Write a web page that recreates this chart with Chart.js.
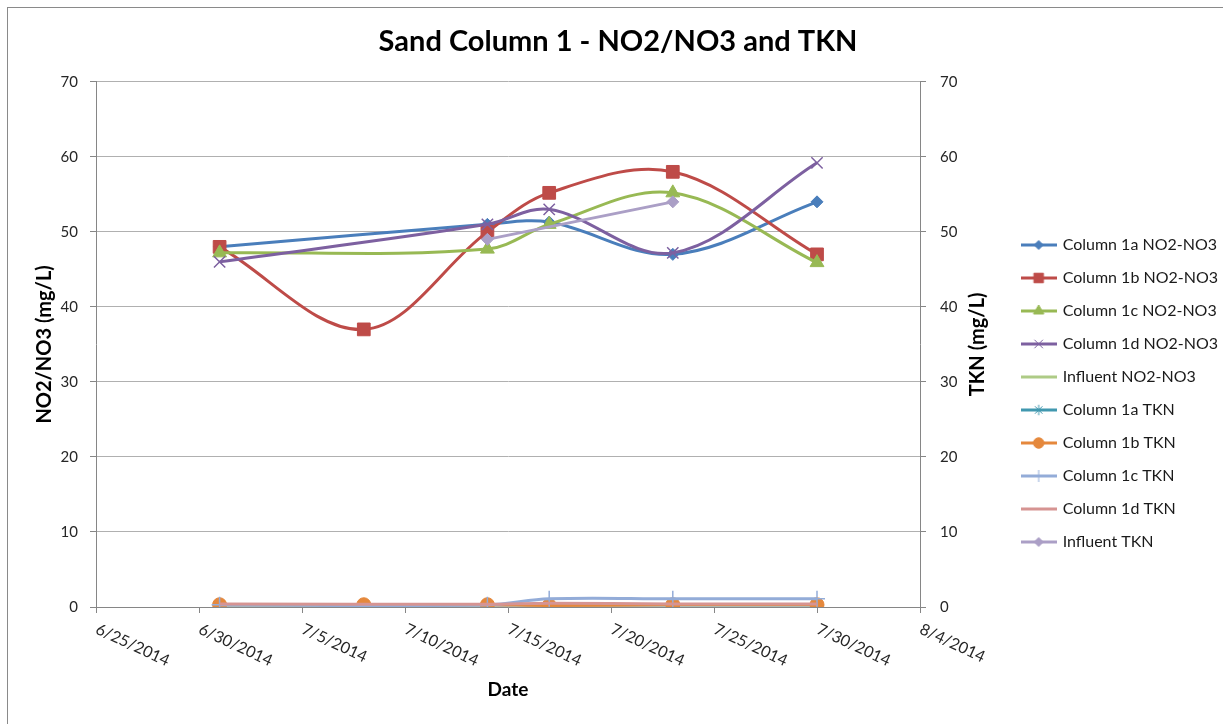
<!DOCTYPE html>
<html>
<head>
<meta charset="utf-8">
<script src="https://cdn.jsdelivr.net/npm/chart.js@4/dist/chart.umd.min.js"></script>
<style>
  html, body { margin: 0; padding: 0; background: #fff; overflow: hidden; }
  #frame { position: absolute; left: 7px; top: 7px; width: 1220px; height: 720px; border: 1px solid #8a8a8a; }
</style>
</head>
<body>
<div id="frame"><canvas id="chart"></canvas></div>
<script>
// -------------------------------
// DATA
// -------------------------------
const sampleDates = ["7/1/2014", "7/8/2014", "7/14/2014", "7/17/2014", "7/23/2014", "7/30/2014"];
const xTickLabels = ["6/25/2014", "6/30/2014", "7/5/2014", "7/10/2014", "7/15/2014",
                     "7/20/2014", "7/25/2014", "7/30/2014", "8/4/2014"];

const col1aNO = [48, null, 51, 51.3, 47, 54];
const col1bNO = [48, 37, 50, 55.2, 58, 47];
const col1cNO = [47.2, null, 47.7, 51, 55.2, 45.9];
const col1dNO = [46, null, 51, 53, 47.2, 59.2];
const influentNO = [null, null, null, null, null, null];
const col1aTKN = [0.25, null, 0.25, null, 0.25, 0.25];
const col1bTKN = [0.3, 0.3, 0.3, 0.2, 0.3, 0.3];
const col1cTKN = [0.3, null, 0.3, 1.1, 1.1, 1.1];
const col1dTKN = [0.4, null, 0.35, 0.5, 0.4, 0.4];
const influentTKN = [null, null, 49, null, 54, null];

// day 0 = 6/25/2014
const BASE = Date.UTC(2014, 5, 25);
function dayOf(s) {
    const [m, d, y] = s.split("/").map(Number);
    return (Date.UTC(y, m - 1, d) - BASE) / 86400000;
}
function toPoints(values) {
    return sampleDates.map((d, i) => ({ x: dayOf(d), y: values[i] }));
}

// -------------------------------
// SERIES STYLE
// -------------------------------
const series = [
    { label: "Column 1a NO2-NO3", data: col1aNO, color: "#4a7ebb", style: "rectRot", r: 6, axis: "y" },
    { label: "Column 1b NO2-NO3", data: col1bNO, color: "#be4b48", style: "rect", r: 9, axis: "y" },
    { label: "Column 1c NO2-NO3", data: col1cNO, color: "#98b954", style: "triangle", r: 8, axis: "y" },
    { label: "Column 1d NO2-NO3", data: col1dNO, color: "#7d60a0", style: "crossRot", r: 8, axis: "y" },
    { label: "Influent NO2-NO3", data: influentNO, color: "#aecb86", style: false, r: 0, axis: "y" },
    { label: "Column 1a TKN", data: col1aTKN, color: "#4198af", style: "star", r: 7, axis: "y2" },
    { label: "Column 1b TKN", data: col1bTKN, color: "#e5883c", style: "circle", r: 7, axis: "y2" },
    { label: "Column 1c TKN", data: col1cTKN, color: "#93acd8", style: "cross", r: 8, axis: "y2" },
    { label: "Column 1d TKN", data: col1dTKN, color: "#d69492", style: false, r: 0, axis: "y2" },
    { label: "Influent TKN", data: influentTKN, color: "#ab9fc6", style: "rectRot", r: 6, axis: "y2" }
];
const lineMarkers = ["crossRot", "cross", "star"];

// small line+marker pictures for the legend
function legendIcon(s) {
    const c = document.createElement("canvas");
    c.width = 36; c.height = 16;
    const g = c.getContext("2d");
    g.strokeStyle = s.color; g.fillStyle = s.color; g.lineWidth = 3;
    g.beginPath(); g.moveTo(0, 8); g.lineTo(36, 8); g.stroke();
    if (s.style) {
        g.lineWidth = 1;
        Chart.helpers.drawPoint(g, { pointStyle: s.style, radius: s.r * 0.75, borderWidth: 1, rotation: 0 }, 18, 8);
    }
    return c;
}

Chart.defaults.font.family = "Lato, 'Noto Sans', sans-serif";
Chart.defaults.color = "#262626";

const datasets = series.map((s, i) => ({
    label: s.label,
    data: toPoints(s.data),
    yAxisID: s.axis,
    borderColor: s.color,
    backgroundColor: s.color,
    borderWidth: 3,
    tension: 0.35,
    spanGaps: true,
    pointStyle: s.style || "circle",
    pointRadius: s.r,
    pointBorderWidth: lineMarkers.includes(s.style) ? 1.5 : 1,
    pointBorderColor: s.color,
    pointBackgroundColor: s.color,
    order: 20 - i
}));

// x tick labels slanted down-right and right-axis title reading upward
const extraText = {
    id: "extraText",
    afterDraw(chart) {
        const ctx = chart.ctx;
        const xs = chart.scales.x;
        const area = chart.chartArea;
        ctx.save();
        ctx.font = "16px Lato";
        ctx.fillStyle = "#262626";
        ctx.textAlign = "left";
        ctx.textBaseline = "top";
        xs.ticks.forEach((t, i) => {
            const px = xs.getPixelForValue(t.value);
            ctx.save();
            ctx.translate(px + 4, area.bottom + 14);
            ctx.rotate(25 * Math.PI / 180);
            ctx.fillText(xTickLabels[i], 0, 0);
            ctx.restore();
        });
        ctx.font = "bold 20px Lato";
        ctx.fillStyle = "#000";
        ctx.textAlign = "center";
        ctx.textBaseline = "middle";
        ctx.translate(area.right + 58, (area.top + area.bottom) / 2);
        ctx.rotate(-Math.PI / 2);
        ctx.fillText("TKN (mg/L)", 0, 0);
        ctx.restore();
    }
};

const ctx = document.getElementById("chart").getContext("2d");
const chart = new Chart(ctx, {
    type: "line",
    data: { datasets: datasets },
    plugins: [extraText],
    options: {
        responsive: true,
        maintainAspectRatio: false,
        animation: false,
        events: [],
        layout: { padding: 0 },
        plugins: {
            title: {
                display: true,
                text: "Sand Column 1 - NO2/NO3 and TKN",
                color: "#000",
                font: { size: 29, weight: "bold" },
                padding: { top: 16, bottom: 23 }
            },
            legend: {
                position: "right",
                align: "start",
                maxWidth: 227,
                title: { display: true, text: " ", font: { size: 10 }, padding: { top: 0, bottom: 200 } },
                labels: {
                    usePointStyle: true,
                    pointStyleWidth: 32,
                    padding: 17,
                    color: "#1a1a1a",
                    font: { size: 16 },
                    generateLabels: (ch) => series.map((s, i) => ({
                        text: s.label,
                        pointStyle: legendIcon(s),
                        fillStyle: s.color,
                        strokeStyle: s.color,
                        lineWidth: 0,
                        hidden: false,
                        datasetIndex: i,
                        fontColor: "#1a1a1a"
                    }))
                }
            },
            tooltip: { enabled: false }
        },
        scales: {
            x: {
                type: "linear",
                min: 0,
                max: 40,
                afterFit: (scale) => { scale.height = 121; },
                ticks: {
                    stepSize: 5,
                    autoSkip: false,
                    maxRotation: 0,
                    color: "rgba(0,0,0,0)",
                    callback: (v, i) => xTickLabels[i]
                },
                grid: { drawOnChartArea: false, drawTicks: true, tickLength: 6, tickColor: "#868686" },
                border: { display: true, color: "#868686" },
                title: {
                    display: true,
                    text: "Date",
                    color: "#000",
                    font: { size: 19, weight: "bold" },
                    padding: { top: 0, bottom: 27 }
                }
            },
            y: {
                position: "left",
                min: 0,
                max: 70,
                afterFit: (scale) => { scale.width = 88; },
                ticks: { stepSize: 10, padding: 12, font: { size: 15 } },
                grid: { color: "#b0b0b0", drawTicks: true, tickLength: 6, tickColor: "#868686" },
                border: { display: true, color: "#868686" },
                title: {
                    display: true,
                    text: "NO2/NO3 (mg/L)",
                    color: "#000",
                    font: { size: 20, weight: "bold" },
                    padding: { top: 25, bottom: 0 }
                }
            },
            y2: {
                position: "right",
                min: 0,
                max: 70,
                afterFit: (scale) => {
                    const lw = scale.chart.legend ? scale.chart.legend.width : 227;
                    scale.width = scale.chart.width - 912 - lw;
                },
                ticks: { stepSize: 10, padding: 14, font: { size: 15 } },
                grid: { drawOnChartArea: false, drawTicks: true, tickLength: 6, tickColor: "#868686" },
                border: { display: true, color: "#868686" }
            }
        }
    }
});
</script>
</body>
</html>
